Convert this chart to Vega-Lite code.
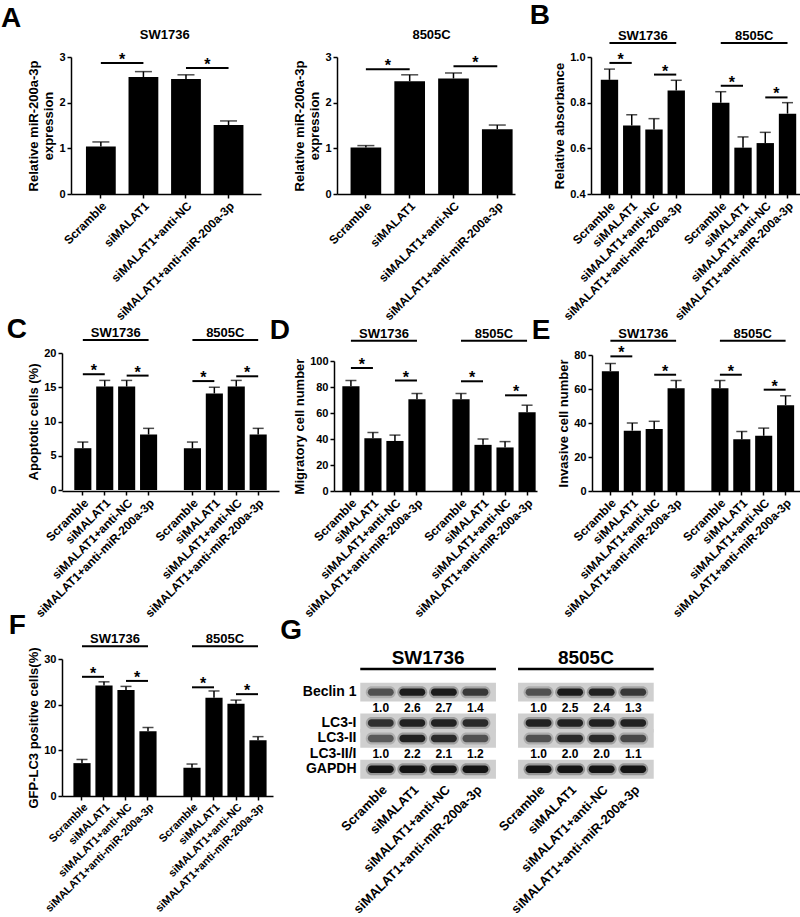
{
"$schema": "https://vega.github.io/schema/vega-lite/v6.json",
"padding": {"left": 0, "top": 2, "right": 0, "bottom": 0},
"background": "white",
"columns": 1,
"spacing": -7,
"align": "none",
"config": {
 "font": "Liberation Sans",
 "view": {"stroke": null},
 "axis": {"domainColor": "black", "domainWidth": 1.5, "tickColor": "black", "tickWidth": 1.5, "tickSize": 4, "labelColor": "black", "labelFontWeight": "bold", "labelFontSize": 11, "labelFont": "Liberation Sans", "titleColor": "black", "titleFontWeight": "bold", "titleFontSize": 13, "titleFont": "Liberation Sans", "grid": false, "labelLimit": 400},
 "axisX": {"labelAngle": -45, "labelAlign": "right", "labelBaseline": "top", "labelPadding": 2, "labelFontSize": 12},
 "axisY": {"titlePadding": 3, "labelPadding": 2, "labelOverlap": false},
 "title": {"anchor": "start", "frame": "bounds", "fontSize": 28, "fontWeight": "bold", "color": "black", "font": "Liberation Sans", "baseline": "alphabetic", "offset": 0},
 "text": {"font": "Liberation Sans", "fontWeight": "bold", "color": "black"},
 "rule": {"color": "black"},
 "tick": {"color": "black"},
 "bar": {"color": "black"}
},
"concat": [
{"hconcat": [
 {"title": {"text": "A", "dx": -27, "dy": 8},
  "width": 199, "height": 137,
  "layer": [
   {"data": {"values": [
     {"key": "Scramble", "value": 1.04, "upper": 1.14},
     {"key": "siMALAT1", "value": 2.56, "upper": 2.68},
     {"key": "siMALAT1+anti-NC", "value": 2.52, "upper": 2.61},
     {"key": "siMALAT1+anti-miR-200a-3p", "value": 1.51, "upper": 1.60}]},
    "layer": [
     {"mark": {"type": "bar"}, "encoding": {
       "x": {"field": "key", "type": "nominal", "scale": {"domain": ["Scramble", "siMALAT1", "siMALAT1+anti-NC", "siMALAT1+anti-miR-200a-3p"], "range": [9, 199], "paddingInner": 0.3, "paddingOuter": 0.382, "align": 0.46}, "axis": {"title": null}},
       "y": {"field": "value", "type": "quantitative", "scale": {"domain": [0, 3], "nice": false}, "axis": {"title": ["Relative miR-200a-3p", "expression"], "values": [0, 1, 2, 3], "offset": -9}}}},
     {"mark": {"type": "rule", "strokeWidth": 1.5}, "encoding": {"x": {"field": "key", "type": "nominal"}, "y": {"field": "value", "type": "quantitative"}, "y2": {"field": "upper"}}},
     {"mark": {"type": "tick", "size": 17, "thickness": 1.5}, "encoding": {"x": {"field": "key", "type": "nominal"}, "y": {"field": "upper", "type": "quantitative"}}}
    ]},
   {"data": {"values": [
     {"from": "Scramble", "to": "siMALAT1", "y": 2.87},
     {"from": "siMALAT1+anti-NC", "to": "siMALAT1+anti-miR-200a-3p", "y": 2.76}]},
    "layer": [
     {"mark": {"type": "rule", "strokeWidth": 2}, "encoding": {"x": {"field": "from", "type": "nominal", "bandPosition": 0.5}, "x2": {"field": "to", "bandPosition": 0.5}, "y": {"field": "y", "type": "quantitative"}}},
     {"mark": {"type": "text", "text": "*", "fontSize": 16, "baseline": "alphabetic", "dy": 2}, "encoding": {"x": {"field": "from", "type": "nominal", "bandPosition": 1.214}, "y": {"field": "y", "type": "quantitative"}}}
    ]},
   {"data": {"values": [{"cell": "SW1736", "mid": "siMALAT1", "y": 3.385}]},
    "mark": {"type": "text", "fontSize": 13, "baseline": "alphabetic"},
    "encoding": {"x": {"field": "mid", "type": "nominal", "bandPosition": 1.214}, "y": {"field": "y", "type": "quantitative"}, "text": {"field": "cell"}}}
  ]},
 {"width": 178, "height": 137,
  "layer": [
   {"data": {"values": [
     {"key": "Scramble", "value": 1.02, "upper": 1.06},
     {"key": "siMALAT1", "value": 2.47, "upper": 2.61},
     {"key": "siMALAT1+anti-NC", "value": 2.53, "upper": 2.65},
     {"key": "siMALAT1+anti-miR-200a-3p", "value": 1.42, "upper": 1.51}]},
    "layer": [
     {"mark": {"type": "bar"}, "encoding": {
       "x": {"field": "key", "type": "nominal", "scale": {"domain": ["Scramble", "siMALAT1", "siMALAT1+anti-NC", "siMALAT1+anti-miR-200a-3p"], "paddingInner": 0.3, "paddingOuter": 0.182, "align": 0.85}, "axis": {"title": null}},
       "y": {"field": "value", "type": "quantitative", "scale": {"domain": [0, 3], "nice": false}, "axis": {"title": ["Relative miR-200a-3p", "expression"], "values": [0, 1, 2, 3]}}}},
     {"mark": {"type": "rule", "strokeWidth": 1.5}, "encoding": {"x": {"field": "key", "type": "nominal"}, "y": {"field": "value", "type": "quantitative"}, "y2": {"field": "upper"}}},
     {"mark": {"type": "tick", "size": 17, "thickness": 1.5}, "encoding": {"x": {"field": "key", "type": "nominal"}, "y": {"field": "upper", "type": "quantitative"}}}
    ]},
   {"data": {"values": [
     {"from": "Scramble", "to": "siMALAT1", "y": 2.73},
     {"from": "siMALAT1+anti-NC", "to": "siMALAT1+anti-miR-200a-3p", "y": 2.80}]},
    "layer": [
     {"mark": {"type": "rule", "strokeWidth": 2}, "encoding": {"x": {"field": "from", "type": "nominal", "bandPosition": 0.5}, "x2": {"field": "to", "bandPosition": 0.5}, "y": {"field": "y", "type": "quantitative"}}},
     {"mark": {"type": "text", "text": "*", "fontSize": 16, "baseline": "alphabetic", "dy": 2}, "encoding": {"x": {"field": "from", "type": "nominal", "bandPosition": 1.214}, "y": {"field": "y", "type": "quantitative"}}}
    ]},
   {"data": {"values": [{"cell": "8505C", "mid": "siMALAT1", "y": 3.385}]},
    "mark": {"type": "text", "fontSize": 13, "baseline": "alphabetic"},
    "encoding": {"x": {"field": "mid", "type": "nominal", "bandPosition": 1.214}, "y": {"field": "y", "type": "quantitative"}, "text": {"field": "cell"}}}
  ]},
 {"title": {"text": "B", "dx": -24, "dy": 4},
  "width": 215, "height": 137,
  "layer": [
   {"data": {"values": [
     {"key": "SW1736|Scramble", "value": 0.90, "upper": 0.947},
     {"key": "SW1736|siMALAT1", "value": 0.70, "upper": 0.747},
     {"key": "SW1736|siMALAT1+anti-NC", "value": 0.682, "upper": 0.73},
     {"key": "SW1736|siMALAT1+anti-miR-200a-3p", "value": 0.853, "upper": 0.898},
     {"key": "8505C|Scramble", "value": 0.80, "upper": 0.848},
     {"key": "8505C|siMALAT1", "value": 0.603, "upper": 0.65},
     {"key": "8505C|siMALAT1+anti-NC", "value": 0.623, "upper": 0.67},
     {"key": "8505C|siMALAT1+anti-miR-200a-3p", "value": 0.752, "upper": 0.80}]},
    "layer": [
     {"mark": {"type": "bar"}, "encoding": {
       "x": {"field": "key", "type": "nominal", "scale": {"domain": ["SW1736|Scramble", "SW1736|siMALAT1", "SW1736|siMALAT1+anti-NC", "SW1736|siMALAT1+anti-miR-200a-3p", "gap", "8505C|Scramble", "8505C|siMALAT1", "8505C|siMALAT1+anti-NC", "8505C|siMALAT1+anti-miR-200a-3p"], "paddingInner": 0.22, "paddingOuter": 0.44}, "axis": {"title": null, "values": ["SW1736|Scramble", "SW1736|siMALAT1", "SW1736|siMALAT1+anti-NC", "SW1736|siMALAT1+anti-miR-200a-3p", "8505C|Scramble", "8505C|siMALAT1", "8505C|siMALAT1+anti-NC", "8505C|siMALAT1+anti-miR-200a-3p"], "labelExpr": "split(datum.label, '|')[1]"}},
       "y": {"field": "value", "type": "quantitative", "scale": {"domain": [0.4, 1.0], "nice": false, "zero": false}, "axis": {"title": "Relative absorbance", "values": [0.4, 0.6, 0.8, 1.0], "format": ".1f"}},
       "y2": {"datum": 0.4}}},
     {"mark": {"type": "rule", "strokeWidth": 1.5}, "encoding": {"x": {"field": "key", "type": "nominal"}, "y": {"field": "value", "type": "quantitative"}, "y2": {"field": "upper"}}},
     {"mark": {"type": "tick", "size": 11, "thickness": 1.5}, "encoding": {"x": {"field": "key", "type": "nominal"}, "y": {"field": "upper", "type": "quantitative"}}}
    ]},
   {"data": {"values": [
     {"from": "SW1736|Scramble", "to": "SW1736|siMALAT1", "y": 0.974},
     {"from": "SW1736|siMALAT1+anti-NC", "to": "SW1736|siMALAT1+anti-miR-200a-3p", "y": 0.923},
     {"from": "8505C|Scramble", "to": "8505C|siMALAT1", "y": 0.874},
     {"from": "8505C|siMALAT1+anti-NC", "to": "8505C|siMALAT1+anti-miR-200a-3p", "y": 0.823}]},
    "layer": [
     {"mark": {"type": "rule", "strokeWidth": 2}, "encoding": {"x": {"field": "from", "type": "nominal", "bandPosition": 0.5}, "x2": {"field": "to", "bandPosition": 0.5}, "y": {"field": "y", "type": "quantitative"}}},
     {"mark": {"type": "text", "text": "*", "fontSize": 16, "baseline": "alphabetic", "dy": 2}, "encoding": {"x": {"field": "from", "type": "nominal", "bandPosition": 1.141}, "y": {"field": "y", "type": "quantitative"}}}
    ]},
   {"data": {"values": [
     {"cell": "SW1736", "from": "SW1736|Scramble", "to": "SW1736|siMALAT1+anti-miR-200a-3p", "mid": "SW1736|siMALAT1", "y": 1.061},
     {"cell": "8505C", "from": "8505C|Scramble", "to": "8505C|siMALAT1+anti-miR-200a-3p", "mid": "8505C|siMALAT1", "y": 1.061}]},
    "layer": [
     {"mark": {"type": "rule", "strokeWidth": 2}, "encoding": {"x": {"field": "from", "type": "nominal", "bandPosition": 0.5}, "x2": {"field": "to", "bandPosition": 0.5}, "y": {"field": "y", "type": "quantitative"}}},
     {"mark": {"type": "text", "fontSize": 13, "baseline": "alphabetic", "dy": -3}, "encoding": {"x": {"field": "mid", "type": "nominal", "bandPosition": 1.141}, "y": {"field": "y", "type": "quantitative"}, "text": {"field": "cell"}}}
    ]}
  ]}
], "spacing": 76, "bounds": "flush"},
{"hconcat": [
 {"title": {"text": "C", "dx": -21, "dy": 21},
  "width": 217, "height": 138,
  "layer": [
   {"data": {"values": [
     {"key": "SW1736|Scramble", "value": 6.1, "upper": 7.0},
     {"key": "SW1736|siMALAT1", "value": 15.1, "upper": 16.0},
     {"key": "SW1736|siMALAT1+anti-NC", "value": 15.1, "upper": 16.0},
     {"key": "SW1736|siMALAT1+anti-miR-200a-3p", "value": 8.1, "upper": 9.0},
     {"key": "8505C|Scramble", "value": 6.1, "upper": 7.0},
     {"key": "8505C|siMALAT1", "value": 14.1, "upper": 15.0},
     {"key": "8505C|siMALAT1+anti-NC", "value": 15.1, "upper": 16.0},
     {"key": "8505C|siMALAT1+anti-miR-200a-3p", "value": 8.1, "upper": 9.0}]},
    "layer": [
     {"mark": {"type": "bar"}, "encoding": {
       "x": {"field": "key", "type": "nominal", "scale": {"domain": ["SW1736|Scramble", "SW1736|siMALAT1", "SW1736|siMALAT1+anti-NC", "SW1736|siMALAT1+anti-miR-200a-3p", "gap", "8505C|Scramble", "8505C|siMALAT1", "8505C|siMALAT1+anti-NC", "8505C|siMALAT1+anti-miR-200a-3p"], "paddingInner": 0.22, "paddingOuter": 0.56}, "axis": {"title": null, "values": ["SW1736|Scramble", "SW1736|siMALAT1", "SW1736|siMALAT1+anti-NC", "SW1736|siMALAT1+anti-miR-200a-3p", "8505C|Scramble", "8505C|siMALAT1", "8505C|siMALAT1+anti-NC", "8505C|siMALAT1+anti-miR-200a-3p"], "labelExpr": "split(datum.label, '|')[1]"}},
       "y": {"field": "value", "type": "quantitative", "scale": {"domain": [0, 20], "nice": false, "range": [137, 0]}, "axis": {"title": "Apoptotic cells (%)", "values": [0, 5, 10, 15, 20], "format": "d", "labelOverlap": false, "tickCount": 10}}}},
     {"mark": {"type": "rule", "strokeWidth": 1.5}, "encoding": {"x": {"field": "key", "type": "nominal"}, "y": {"field": "value", "type": "quantitative"}, "y2": {"field": "upper"}}},
     {"mark": {"type": "tick", "size": 11, "thickness": 1.5}, "encoding": {"x": {"field": "key", "type": "nominal"}, "y": {"field": "upper", "type": "quantitative"}}}
    ]},
   {"data": {"values": [
     {"from": "SW1736|Scramble", "to": "SW1736|siMALAT1", "y": 16.9},
     {"from": "SW1736|siMALAT1+anti-NC", "to": "SW1736|siMALAT1+anti-miR-200a-3p", "y": 16.7},
     {"from": "8505C|Scramble", "to": "8505C|siMALAT1", "y": 15.9},
     {"from": "8505C|siMALAT1+anti-NC", "to": "8505C|siMALAT1+anti-miR-200a-3p", "y": 16.6}]},
    "layer": [
     {"mark": {"type": "rule", "strokeWidth": 2}, "encoding": {"x": {"field": "from", "type": "nominal", "bandPosition": 0.5}, "x2": {"field": "to", "bandPosition": 0.5}, "y": {"field": "y", "type": "quantitative"}}},
     {"mark": {"type": "text", "text": "*", "fontSize": 16, "baseline": "alphabetic", "dy": 2}, "encoding": {"x": {"field": "from", "type": "nominal", "bandPosition": 1.141}, "y": {"field": "y", "type": "quantitative"}}}
    ]},
   {"data": {"values": [
     {"cell": "SW1736", "from": "SW1736|Scramble", "to": "SW1736|siMALAT1+anti-miR-200a-3p", "mid": "SW1736|siMALAT1", "y": 21.9},
     {"cell": "8505C", "from": "8505C|Scramble", "to": "8505C|siMALAT1+anti-miR-200a-3p", "mid": "8505C|siMALAT1", "y": 21.9}]},
    "layer": [
     {"mark": {"type": "rule", "strokeWidth": 2}, "encoding": {"x": {"field": "from", "type": "nominal", "bandPosition": 0.5}, "x2": {"field": "to", "bandPosition": 0.5}, "y": {"field": "y", "type": "quantitative"}}},
     {"mark": {"type": "text", "fontSize": 13, "baseline": "alphabetic", "dy": -3}, "encoding": {"x": {"field": "mid", "type": "nominal", "bandPosition": 1.141}, "y": {"field": "y", "type": "quantitative"}, "text": {"field": "cell"}}}
    ]}
  ]},
 {"title": {"text": "D", "dx": -24, "dy": 21},
  "width": 203, "height": 138,
  "layer": [
   {"data": {"values": [
     {"key": "SW1736|Scramble", "value": 80.5, "upper": 85},
     {"key": "SW1736|siMALAT1", "value": 40.5, "upper": 45},
     {"key": "SW1736|siMALAT1+anti-NC", "value": 38.5, "upper": 43},
     {"key": "SW1736|siMALAT1+anti-miR-200a-3p", "value": 70.5, "upper": 75},
     {"key": "8505C|Scramble", "value": 70.5, "upper": 75},
     {"key": "8505C|siMALAT1", "value": 35.5, "upper": 40},
     {"key": "8505C|siMALAT1+anti-NC", "value": 33.5, "upper": 38},
     {"key": "8505C|siMALAT1+anti-miR-200a-3p", "value": 60.5, "upper": 66}]},
    "layer": [
     {"mark": {"type": "bar"}, "encoding": {
       "x": {"field": "key", "type": "nominal", "scale": {"domain": ["SW1736|Scramble", "SW1736|siMALAT1", "SW1736|siMALAT1+anti-NC", "SW1736|siMALAT1+anti-miR-200a-3p", "gap", "8505C|Scramble", "8505C|siMALAT1", "8505C|siMALAT1+anti-NC", "8505C|siMALAT1+anti-miR-200a-3p"], "paddingInner": 0.22, "paddingOuter": 0.22, "align": 0.86}, "axis": {"title": null, "values": ["SW1736|Scramble", "SW1736|siMALAT1", "SW1736|siMALAT1+anti-NC", "SW1736|siMALAT1+anti-miR-200a-3p", "8505C|Scramble", "8505C|siMALAT1", "8505C|siMALAT1+anti-NC", "8505C|siMALAT1+anti-miR-200a-3p"], "labelExpr": "split(datum.label, '|')[1]"}},
       "y": {"field": "value", "type": "quantitative", "scale": {"domain": [0, 100], "nice": false, "range": [138, 8]}, "axis": {"title": "Migratory cell number", "values": [0, 20, 40, 60, 80, 100], "labelOverlap": false, "tickCount": 6}}}},
     {"mark": {"type": "rule", "strokeWidth": 1.5}, "encoding": {"x": {"field": "key", "type": "nominal"}, "y": {"field": "value", "type": "quantitative"}, "y2": {"field": "upper"}}},
     {"mark": {"type": "tick", "size": 11, "thickness": 1.5}, "encoding": {"x": {"field": "key", "type": "nominal"}, "y": {"field": "upper", "type": "quantitative"}}}
    ]},
   {"data": {"values": [
     {"from": "SW1736|Scramble", "to": "SW1736|siMALAT1", "y": 94.6},
     {"from": "SW1736|siMALAT1+anti-NC", "to": "SW1736|siMALAT1+anti-miR-200a-3p", "y": 85},
     {"from": "8505C|Scramble", "to": "8505C|siMALAT1", "y": 84.4},
     {"from": "8505C|siMALAT1+anti-NC", "to": "8505C|siMALAT1+anti-miR-200a-3p", "y": 73.6}]},
    "layer": [
     {"mark": {"type": "rule", "strokeWidth": 2}, "encoding": {"x": {"field": "from", "type": "nominal", "bandPosition": 0.5}, "x2": {"field": "to", "bandPosition": 0.5}, "y": {"field": "y", "type": "quantitative"}}},
     {"mark": {"type": "text", "text": "*", "fontSize": 16, "baseline": "alphabetic", "dy": 2}, "encoding": {"x": {"field": "from", "type": "nominal", "bandPosition": 1.141}, "y": {"field": "y", "type": "quantitative"}}}
    ]},
   {"data": {"values": [
     {"cell": "SW1736", "from": "SW1736|Scramble", "to": "SW1736|siMALAT1+anti-miR-200a-3p", "mid": "SW1736|siMALAT1", "y": 115.6},
     {"cell": "8505C", "from": "8505C|Scramble", "to": "8505C|siMALAT1+anti-miR-200a-3p", "mid": "8505C|siMALAT1", "y": 115.6}]},
    "layer": [
     {"mark": {"type": "rule", "strokeWidth": 2}, "encoding": {"x": {"field": "from", "type": "nominal", "bandPosition": 0.5}, "x2": {"field": "to", "bandPosition": 0.5}, "y": {"field": "y", "type": "quantitative"}}},
     {"mark": {"type": "text", "fontSize": 13, "baseline": "alphabetic", "dy": -3}, "encoding": {"x": {"field": "mid", "type": "nominal", "bandPosition": 1.141}, "y": {"field": "y", "type": "quantitative"}, "text": {"field": "cell"}}}
    ]}
  ]},
 {"title": {"text": "E", "dx": -26, "dy": 21},
  "width": 212, "height": 138,
  "layer": [
   {"data": {"values": [
     {"key": "SW1736|Scramble", "value": 70.5, "upper": 75},
     {"key": "SW1736|siMALAT1", "value": 35.5, "upper": 40},
     {"key": "SW1736|siMALAT1+anti-NC", "value": 36.5, "upper": 41},
     {"key": "SW1736|siMALAT1+anti-miR-200a-3p", "value": 60.5, "upper": 65},
     {"key": "8505C|Scramble", "value": 60.5, "upper": 65},
     {"key": "8505C|siMALAT1", "value": 30.5, "upper": 35},
     {"key": "8505C|siMALAT1+anti-NC", "value": 32.5, "upper": 37},
     {"key": "8505C|siMALAT1+anti-miR-200a-3p", "value": 50.5, "upper": 56}]},
    "layer": [
     {"mark": {"type": "bar"}, "encoding": {
       "x": {"field": "key", "type": "nominal", "scale": {"domain": ["SW1736|Scramble", "SW1736|siMALAT1", "SW1736|siMALAT1+anti-NC", "SW1736|siMALAT1+anti-miR-200a-3p", "gap", "8505C|Scramble", "8505C|siMALAT1", "8505C|siMALAT1+anti-NC", "8505C|siMALAT1+anti-miR-200a-3p"], "paddingInner": 0.22, "paddingOuter": 0.45}, "axis": {"title": null, "values": ["SW1736|Scramble", "SW1736|siMALAT1", "SW1736|siMALAT1+anti-NC", "SW1736|siMALAT1+anti-miR-200a-3p", "8505C|Scramble", "8505C|siMALAT1", "8505C|siMALAT1+anti-NC", "8505C|siMALAT1+anti-miR-200a-3p"], "labelExpr": "split(datum.label, '|')[1]"}},
       "y": {"field": "value", "type": "quantitative", "scale": {"domain": [0, 80], "nice": false, "range": [138, 2]}, "axis": {"title": "Invasive cell number", "values": [0, 20, 40, 60, 80], "labelOverlap": false, "tickCount": 5}}}},
     {"mark": {"type": "rule", "strokeWidth": 1.5}, "encoding": {"x": {"field": "key", "type": "nominal"}, "y": {"field": "value", "type": "quantitative"}, "y2": {"field": "upper"}}},
     {"mark": {"type": "tick", "size": 11, "thickness": 1.5}, "encoding": {"x": {"field": "key", "type": "nominal"}, "y": {"field": "upper", "type": "quantitative"}}}
    ]},
   {"data": {"values": [
     {"from": "SW1736|Scramble", "to": "SW1736|siMALAT1", "y": 79.2},
     {"from": "SW1736|siMALAT1+anti-NC", "to": "SW1736|siMALAT1+anti-miR-200a-3p", "y": 68.4},
     {"from": "8505C|Scramble", "to": "8505C|siMALAT1", "y": 68.4},
     {"from": "8505C|siMALAT1+anti-NC", "to": "8505C|siMALAT1+anti-miR-200a-3p", "y": 59.6}]},
    "layer": [
     {"mark": {"type": "rule", "strokeWidth": 2}, "encoding": {"x": {"field": "from", "type": "nominal", "bandPosition": 0.5}, "x2": {"field": "to", "bandPosition": 0.5}, "y": {"field": "y", "type": "quantitative"}}},
     {"mark": {"type": "text", "text": "*", "fontSize": 16, "baseline": "alphabetic", "dy": 2}, "encoding": {"x": {"field": "from", "type": "nominal", "bandPosition": 1.141}, "y": {"field": "y", "type": "quantitative"}}}
    ]},
   {"data": {"values": [
     {"cell": "SW1736", "from": "SW1736|Scramble", "to": "SW1736|siMALAT1+anti-miR-200a-3p", "mid": "SW1736|siMALAT1", "y": 88.4},
     {"cell": "8505C", "from": "8505C|Scramble", "to": "8505C|siMALAT1+anti-miR-200a-3p", "mid": "8505C|siMALAT1", "y": 88.4}]},
    "layer": [
     {"mark": {"type": "rule", "strokeWidth": 2}, "encoding": {"x": {"field": "from", "type": "nominal", "bandPosition": 0.5}, "x2": {"field": "to", "bandPosition": 0.5}, "y": {"field": "y", "type": "quantitative"}}},
     {"mark": {"type": "text", "fontSize": 13, "baseline": "alphabetic", "dy": -3}, "encoding": {"x": {"field": "mid", "type": "nominal", "bandPosition": 1.141}, "y": {"field": "y", "type": "quantitative"}, "text": {"field": "cell"}}}
    ]}
  ]}
], "spacing": 55, "bounds": "flush"},
{"hconcat": [
 {"title": {"text": "F", "dx": -19, "dy": 11},
  "width": 211, "height": 137,
  "layer": [
   {"data": {"values": [
     {"key": "SW1736|Scramble", "value": 7.2, "upper": 8.0},
     {"key": "SW1736|siMALAT1", "value": 24.2, "upper": 25.0},
     {"key": "SW1736|siMALAT1+anti-NC", "value": 23.2, "upper": 24.0},
     {"key": "SW1736|siMALAT1+anti-miR-200a-3p", "value": 14.2, "upper": 15.0},
     {"key": "8505C|Scramble", "value": 6.2, "upper": 7.0},
     {"key": "8505C|siMALAT1", "value": 21.5, "upper": 23.0},
     {"key": "8505C|siMALAT1+anti-NC", "value": 20.2, "upper": 21.0},
     {"key": "8505C|siMALAT1+anti-miR-200a-3p", "value": 12.2, "upper": 13.0}]},
    "layer": [
     {"mark": {"type": "bar"}, "encoding": {
       "x": {"field": "key", "type": "nominal", "scale": {"domain": ["SW1736|Scramble", "SW1736|siMALAT1", "SW1736|siMALAT1+anti-NC", "SW1736|siMALAT1+anti-miR-200a-3p", "gap", "8505C|Scramble", "8505C|siMALAT1", "8505C|siMALAT1+anti-NC", "8505C|siMALAT1+anti-miR-200a-3p"], "paddingInner": 0.22, "paddingOuter": 0.405, "align": 0.64}, "axis": {"title": null, "values": ["SW1736|Scramble", "SW1736|siMALAT1", "SW1736|siMALAT1+anti-NC", "SW1736|siMALAT1+anti-miR-200a-3p", "8505C|Scramble", "8505C|siMALAT1", "8505C|siMALAT1+anti-NC", "8505C|siMALAT1+anti-miR-200a-3p"], "labelExpr": "split(datum.label, '|')[1]", "labelFontSize": 11, "labelPadding": 1}},
       "y": {"field": "value", "type": "quantitative", "scale": {"domain": [0, 30], "nice": false}, "axis": {"title": "GFP-LC3 positive cells(%)", "values": [0, 10, 20, 30]}}}},
     {"mark": {"type": "rule", "strokeWidth": 1.5}, "encoding": {"x": {"field": "key", "type": "nominal"}, "y": {"field": "value", "type": "quantitative"}, "y2": {"field": "upper"}}},
     {"mark": {"type": "tick", "size": 11, "thickness": 1.5}, "encoding": {"x": {"field": "key", "type": "nominal"}, "y": {"field": "upper", "type": "quantitative"}}}
    ]},
   {"data": {"values": [
     {"from": "SW1736|Scramble", "to": "SW1736|siMALAT1", "y": 26.1},
     {"from": "SW1736|siMALAT1+anti-NC", "to": "SW1736|siMALAT1+anti-miR-200a-3p", "y": 25.2},
     {"from": "8505C|Scramble", "to": "8505C|siMALAT1", "y": 23.8},
     {"from": "8505C|siMALAT1+anti-NC", "to": "8505C|siMALAT1+anti-miR-200a-3p", "y": 22.3}]},
    "layer": [
     {"mark": {"type": "rule", "strokeWidth": 2}, "encoding": {"x": {"field": "from", "type": "nominal", "bandPosition": 0.5}, "x2": {"field": "to", "bandPosition": 0.5}, "y": {"field": "y", "type": "quantitative"}}},
     {"mark": {"type": "text", "text": "*", "fontSize": 16, "baseline": "alphabetic", "dy": 2}, "encoding": {"x": {"field": "from", "type": "nominal", "bandPosition": 1.141}, "y": {"field": "y", "type": "quantitative"}}}
    ]},
   {"data": {"values": [
     {"cell": "SW1736", "from": "SW1736|Scramble", "to": "SW1736|siMALAT1+anti-miR-200a-3p", "mid": "SW1736|siMALAT1", "y": 32.8},
     {"cell": "8505C", "from": "8505C|Scramble", "to": "8505C|siMALAT1+anti-miR-200a-3p", "mid": "8505C|siMALAT1", "y": 32.8}]},
    "layer": [
     {"mark": {"type": "rule", "strokeWidth": 2}, "encoding": {"x": {"field": "from", "type": "nominal", "bandPosition": 0.5}, "x2": {"field": "to", "bandPosition": 0.5}, "y": {"field": "y", "type": "quantitative"}}},
     {"mark": {"type": "text", "fontSize": 13, "baseline": "alphabetic", "dy": -3}, "encoding": {"x": {"field": "mid", "type": "nominal", "bandPosition": 1.141}, "y": {"field": "y", "type": "quantitative"}, "text": {"field": "cell"}}}
    ]}
  ]},
 {"title": {"text": "G", "dx": -22, "offset": 4},
  "width": 284, "height": 118,
  "layer": [
   {"data": {"values": [
     {"from": "SW1736|Scramble", "to": "SW1736|siMALAT1+anti-miR-200a-3p", "row": "Beclin 1"},
     {"from": "SW1736|Scramble", "to": "SW1736|siMALAT1+anti-miR-200a-3p", "row": "LC3-I"},
     {"from": "SW1736|Scramble", "to": "SW1736|siMALAT1+anti-miR-200a-3p", "row": "LC3-II"},
     {"from": "SW1736|Scramble", "to": "SW1736|siMALAT1+anti-miR-200a-3p", "row": "GAPDH"},
     {"from": "8505C|Scramble", "to": "8505C|siMALAT1+anti-miR-200a-3p", "row": "Beclin 1"},
     {"from": "8505C|Scramble", "to": "8505C|siMALAT1+anti-miR-200a-3p", "row": "LC3-I"},
     {"from": "8505C|Scramble", "to": "8505C|siMALAT1+anti-miR-200a-3p", "row": "LC3-II"},
     {"from": "8505C|Scramble", "to": "8505C|siMALAT1+anti-miR-200a-3p", "row": "GAPDH"}]},
    "mark": {"type": "rect", "color": "#cfcfcf", "height": {"band": 1.22}},
    "encoding": {
     "x": {"field": "from", "type": "nominal", "bandPosition": -0.15, "scale": {"domain": ["SW1736|Scramble", "SW1736|siMALAT1", "SW1736|siMALAT1+anti-NC", "SW1736|siMALAT1+anti-miR-200a-3p", "gap", "8505C|Scramble", "8505C|siMALAT1", "8505C|siMALAT1+anti-NC", "8505C|siMALAT1+anti-miR-200a-3p"], "paddingInner": 0, "paddingOuter": 0}, "axis": {"title": null, "values": ["SW1736|Scramble", "SW1736|siMALAT1", "SW1736|siMALAT1+anti-NC", "SW1736|siMALAT1+anti-miR-200a-3p", "8505C|Scramble", "8505C|siMALAT1", "8505C|siMALAT1+anti-NC", "8505C|siMALAT1+anti-miR-200a-3p"], "labelExpr": "split(datum.label, '|')[1]", "domain": false, "ticks": false, "labelFontSize": 13, "labelPadding": 6}},
     "x2": {"field": "to", "bandPosition": 1.15},
     "y": {"field": "row", "type": "nominal", "scale": {"domain": ["hdr", "Beclin 1", "r1", "LC3-I", "LC3-II", "r2", "GAPDH"], "range": [10, 118], "paddingInner": 0, "paddingOuter": 0}, "axis": {"title": null, "domain": false, "ticks": false, "labelFontSize": 14, "labelPadding": 9, "labelExpr": "datum.value == 'r2' ? 'LC3-II/I' : ((datum.value == 'hdr' || datum.value == 'r1') ? '' : datum.value)"}}}},
   {"data": {"name": "bands", "values": [
     {"key": "SW1736|Scramble", "row": "Beclin 1", "intensity": 0.6},
     {"key": "SW1736|siMALAT1", "row": "Beclin 1", "intensity": 0.95},
     {"key": "SW1736|siMALAT1+anti-NC", "row": "Beclin 1", "intensity": 0.95},
     {"key": "SW1736|siMALAT1+anti-miR-200a-3p", "row": "Beclin 1", "intensity": 0.75},
     {"key": "8505C|Scramble", "row": "Beclin 1", "intensity": 0.6},
     {"key": "8505C|siMALAT1", "row": "Beclin 1", "intensity": 0.95},
     {"key": "8505C|siMALAT1+anti-NC", "row": "Beclin 1", "intensity": 0.9},
     {"key": "8505C|siMALAT1+anti-miR-200a-3p", "row": "Beclin 1", "intensity": 0.75},
     {"key": "SW1736|Scramble", "row": "LC3-I", "intensity": 0.8},
     {"key": "SW1736|siMALAT1", "row": "LC3-I", "intensity": 0.9},
     {"key": "SW1736|siMALAT1+anti-NC", "row": "LC3-I", "intensity": 0.9},
     {"key": "SW1736|siMALAT1+anti-miR-200a-3p", "row": "LC3-I", "intensity": 0.85},
     {"key": "8505C|Scramble", "row": "LC3-I", "intensity": 0.9},
     {"key": "8505C|siMALAT1", "row": "LC3-I", "intensity": 0.9},
     {"key": "8505C|siMALAT1+anti-NC", "row": "LC3-I", "intensity": 0.9},
     {"key": "8505C|siMALAT1+anti-miR-200a-3p", "row": "LC3-I", "intensity": 0.9},
     {"key": "SW1736|Scramble", "row": "LC3-II", "intensity": 0.55},
     {"key": "SW1736|siMALAT1", "row": "LC3-II", "intensity": 0.9},
     {"key": "SW1736|siMALAT1+anti-NC", "row": "LC3-II", "intensity": 0.85},
     {"key": "SW1736|siMALAT1+anti-miR-200a-3p", "row": "LC3-II", "intensity": 0.6},
     {"key": "8505C|Scramble", "row": "LC3-II", "intensity": 0.6},
     {"key": "8505C|siMALAT1", "row": "LC3-II", "intensity": 0.85},
     {"key": "8505C|siMALAT1+anti-NC", "row": "LC3-II", "intensity": 0.85},
     {"key": "8505C|siMALAT1+anti-miR-200a-3p", "row": "LC3-II", "intensity": 0.65},
     {"key": "SW1736|Scramble", "row": "GAPDH", "intensity": 1.0},
     {"key": "SW1736|siMALAT1", "row": "GAPDH", "intensity": 1.0},
     {"key": "SW1736|siMALAT1+anti-NC", "row": "GAPDH", "intensity": 1.0},
     {"key": "SW1736|siMALAT1+anti-miR-200a-3p", "row": "GAPDH", "intensity": 1.0},
     {"key": "8505C|Scramble", "row": "GAPDH", "intensity": 1.0},
     {"key": "8505C|siMALAT1", "row": "GAPDH", "intensity": 1.0},
     {"key": "8505C|siMALAT1+anti-NC", "row": "GAPDH", "intensity": 1.0},
     {"key": "8505C|siMALAT1+anti-miR-200a-3p", "row": "GAPDH", "intensity": 1.0}]},
    "layer": [
     {"mark": {"type": "rect", "color": "#141414", "width": {"band": 0.95}, "height": {"band": 0.78}, "cornerRadius": 6},
      "encoding": {
       "x": {"field": "key", "type": "nominal"},
       "y": {"field": "row", "type": "nominal"},
       "fillOpacity": {"field": "intensity", "type": "quantitative", "scale": {"domain": [0, 1], "range": [0, 0.3]}, "legend": null}}},
     {"mark": {"type": "rect", "color": "#141414", "width": {"band": 0.82}, "height": {"band": 0.48}, "cornerRadius": 4},
      "encoding": {
       "x": {"field": "key", "type": "nominal"},
       "y": {"field": "row", "type": "nominal"},
       "opacity": {"field": "intensity", "type": "quantitative", "scale": {"domain": [0, 1], "range": [0, 1]}, "legend": null}}}
    ]},
   {"data": {"values": [
     {"key": "SW1736|Scramble", "row": "r1", "label": "1.0"},
     {"key": "SW1736|siMALAT1", "row": "r1", "label": "2.6"},
     {"key": "SW1736|siMALAT1+anti-NC", "row": "r1", "label": "2.7"},
     {"key": "SW1736|siMALAT1+anti-miR-200a-3p", "row": "r1", "label": "1.4"},
     {"key": "8505C|Scramble", "row": "r1", "label": "1.0"},
     {"key": "8505C|siMALAT1", "row": "r1", "label": "2.5"},
     {"key": "8505C|siMALAT1+anti-NC", "row": "r1", "label": "2.4"},
     {"key": "8505C|siMALAT1+anti-miR-200a-3p", "row": "r1", "label": "1.3"},
     {"key": "SW1736|Scramble", "row": "r2", "label": "1.0"},
     {"key": "SW1736|siMALAT1", "row": "r2", "label": "2.2"},
     {"key": "SW1736|siMALAT1+anti-NC", "row": "r2", "label": "2.1"},
     {"key": "SW1736|siMALAT1+anti-miR-200a-3p", "row": "r2", "label": "1.2"},
     {"key": "8505C|Scramble", "row": "r2", "label": "1.0"},
     {"key": "8505C|siMALAT1", "row": "r2", "label": "2.0"},
     {"key": "8505C|siMALAT1+anti-NC", "row": "r2", "label": "2.0"},
     {"key": "8505C|siMALAT1+anti-miR-200a-3p", "row": "r2", "label": "1.1"}]},
    "mark": {"type": "text", "fontSize": 12, "baseline": "middle"},
    "encoding": {
     "x": {"field": "key", "type": "nominal"},
     "y": {"field": "row", "type": "nominal"},
     "text": {"field": "label"}}},
   {"data": {"values": [
     {"cell": "SW1736", "from": "SW1736|Scramble", "to": "SW1736|siMALAT1+anti-miR-200a-3p", "mid": "SW1736|siMALAT1", "row": "hdr"},
     {"cell": "8505C", "from": "8505C|Scramble", "to": "8505C|siMALAT1+anti-miR-200a-3p", "mid": "8505C|siMALAT1", "row": "hdr"}]},
    "layer": [
     {"mark": {"type": "rule", "strokeWidth": 2.5}, "encoding": {"x": {"field": "from", "type": "nominal", "bandPosition": -0.15}, "x2": {"field": "to", "bandPosition": 1.15}, "y": {"field": "row", "type": "nominal", "bandPosition": 0}}},
     {"mark": {"type": "text", "fontSize": 19, "baseline": "alphabetic", "dy": -5}, "encoding": {"x": {"field": "mid", "type": "nominal", "bandPosition": 1}, "y": {"field": "row", "type": "nominal", "bandPosition": 0}, "text": {"field": "cell"}}}
    ]}
  ]}
], "spacing": 92, "bounds": "flush"}
]
}
